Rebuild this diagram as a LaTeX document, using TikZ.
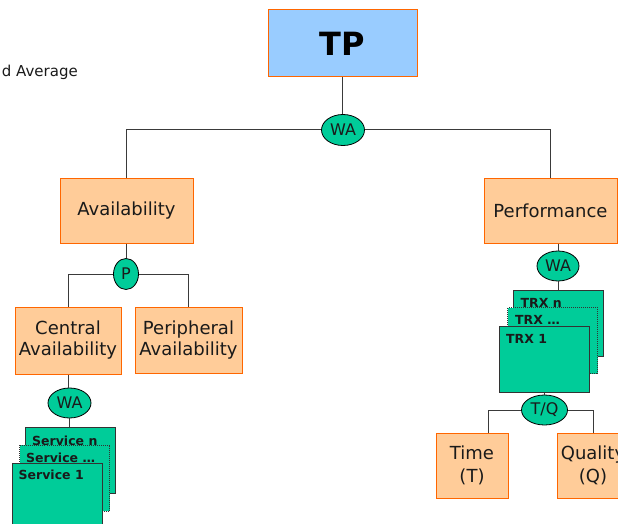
\documentclass[tikz,border=0pt]{standalone}
\usepackage{fontspec}
\setmainfont{DejaVu Sans}
\usetikzlibrary{shapes.geometric}
\definecolor{orangefill}{HTML}{FFCC99}
\definecolor{orangeline}{HTML}{FF6600}
\definecolor{topfill}{HTML}{99CCFF}
\definecolor{opgreen}{HTML}{00CC99}
\definecolor{wirecol}{HTML}{3A3A3A}
\definecolor{txt}{HTML}{1A1A1A}
\begin{document}
\begin{tikzpicture}[x=1pt,y=-1pt,
  box/.style={rectangle, draw=orangeline, fill=orangefill, line width=1pt,
    align=center, inner sep=0pt, text=txt, font=\fontsize{18}{21}\selectfont},
  op/.style={ellipse, draw=black, line width=0.8pt, fill=opgreen, inner sep=0pt,
    text=txt, font=\fontsize{16}{16}\selectfont},
  stackbox/.style={rectangle, draw=black!80, fill=opgreen, line width=1pt,
    minimum width=90, minimum height=66, inner sep=0pt},
  tag/.style={anchor=north west, inner sep=0pt, text=txt,
    font=\bfseries\fontsize{12.5}{13}\selectfont},
  wire/.style={draw=wirecol, line width=1pt}]
\useasboundingbox (0,0) rectangle (618,524);
\clip (0,0) rectangle (618,524);

% legend remainder
\node[anchor=base east, inner sep=0pt, text=txt, font=\fontsize{15}{15}\selectfont]
  (legend) at (78,77) {d Average};

% top level
\node[box, fill=topfill, minimum width=149, minimum height=67,
  font=\bfseries\fontsize{32}{32}\selectfont, text=black] (tp) at (342.5,43.5) {TP};
\node[op, minimum width=43, minimum height=31] (wa1) at (343,130) {WA};

% availability branch
\node[box, minimum width=133, minimum height=65] (avail) at (126.5,210.5) {Availability};
\node[op, minimum width=25, minimum height=31] (p) at (126,274) {P};
\node[box, minimum width=106, minimum height=67] (central) at (68,340.5) {Central\\Availability};
\node[box, minimum width=107, minimum height=66] (periph) at (188.5,340) {Peripheral\\Availability};
\node[op, minimum width=43, minimum height=30] (wa2) at (69.5,403) {WA};

\node[stackbox] (svcn) at (70.5,460) {};
\node[tag] (svcnt) at ([shift={(7,9)}]svcn.north west) {Service n};
\node[stackbox, densely dotted] (svcm) at (64.5,478) {};
\node[tag] (svcmt) at ([shift={(7,8)}]svcm.north west) {Service \ldots};
\node[stackbox] (svc1) at (57,496) {};
\node[tag] (svc1t) at ([shift={(7,7)}]svc1.north west) {Service 1};

% performance branch
\node[box, minimum width=133, minimum height=65] (perf) at (550.5,210.5) {Performance};
\node[op, minimum width=42, minimum height=30] (wa3) at (558,266) {WA};

\node[stackbox] (trxn) at (558,323) {};
\node[tag] (trxnt) at ([shift={(8,9)}]trxn.north west) {TRX n};
\node[stackbox, densely dotted] (trxm) at (552.5,340.5) {};
\node[tag] (trxmt) at ([shift={(8,8)}]trxm.north west) {TRX \ldots};
\node[stackbox] (trx1) at (544.5,359) {};
\node[tag] (trx1t) at ([shift={(7,9)}]trx1.north west) {TRX 1};

\node[op, minimum width=46, minimum height=30] (tq) at (544.5,410) {T/Q};
\node[box, minimum width=72, minimum height=65, font=\fontsize{18}{23}\selectfont] (time) at (472,465.5) {Time\\(T)};
\node[box, minimum width=72, minimum height=65, font=\fontsize{18}{23}\selectfont] (qual) at (593,465.5) {Quality\\(Q)};

% connectors (all vertical runs kept straight)
\draw[wire] (tp.south) -- (tp.south |- wa1.north);
\draw[wire] (wa1.west) -| (avail.north);
\draw[wire] (wa1.east) -| (perf.north);
\draw[wire] (avail.south) -- (avail.south |- p.north);
\draw[wire] (p.west) -| (central.north);
\draw[wire] (p.east) -| (periph.north);
\draw[wire] (central.south) -- (central.south |- wa2.north);
\draw[wire] (wa2.south) -- (wa2.south |- svcn.north);
\draw[wire] (perf.south -| wa3.north) -- (wa3.north);
\draw[wire] (wa3.south) -- (trxn.north);
\draw[wire] (trx1.south) -- (tq.north);
\draw[wire] (tq.west) -| ([xshift=16]time.north);
\draw[wire] (tq.east) -| (qual.north);
\end{tikzpicture}
\end{document}
